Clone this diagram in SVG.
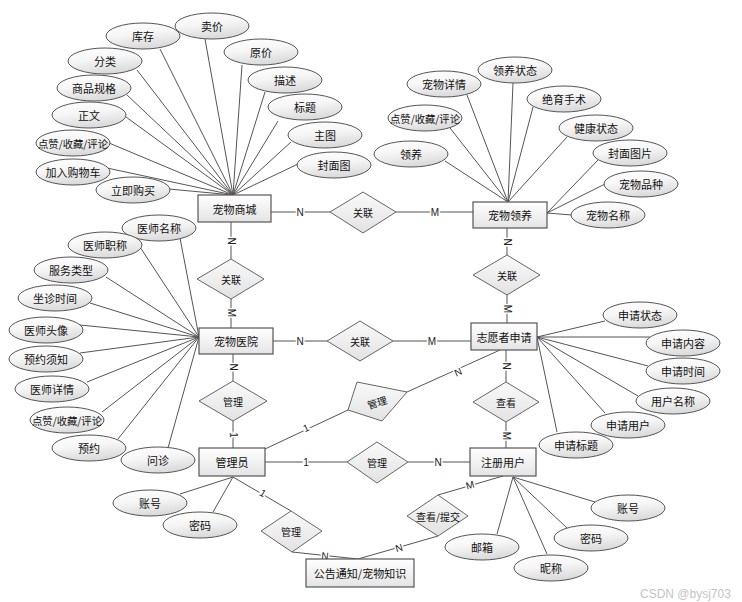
<svg xmlns="http://www.w3.org/2000/svg" width="742" height="602" viewBox="0 0 742 602">
<defs>
<linearGradient id="gE" x1="0" y1="0" x2="0.3" y2="1"><stop offset="0" stop-color="#ffffff"/><stop offset="0.5" stop-color="#f6f6f6"/><stop offset="1" stop-color="#dcdcdc"/></linearGradient>
<linearGradient id="gR" x1="0" y1="0" x2="0" y2="1"><stop offset="0" stop-color="#ffffff"/><stop offset="1" stop-color="#e4e4e4"/></linearGradient>
<linearGradient id="gD" x1="0" y1="0" x2="0" y2="1"><stop offset="0" stop-color="#fafafa"/><stop offset="1" stop-color="#e2e2e2"/></linearGradient>
<style>
.c line{stroke:#555;stroke-width:1}
ellipse{fill:url(#gE);stroke:#555;stroke-width:1}
rect.e{fill:url(#gR);stroke:#555;stroke-width:1.2}
polygon{fill:url(#gD);stroke:#666;stroke-width:1}
text{font-family:"Noto Sans CJK SC","Liberation Sans",sans-serif;font-size:11px;fill:#111;text-anchor:middle;dominant-baseline:central}
text.r{font-size:10px}
text.s{font-size:10.5px}
text.l{font-family:"Liberation Sans",sans-serif;font-size:10px;fill:#222;stroke:#fff;stroke-width:3;paint-order:stroke}
text.w{font-family:"Liberation Sans",sans-serif;font-size:12px;fill:#c4c4c4;text-anchor:start}
</style>
</defs>
<rect width="742" height="602" fill="#fff"/>
<g id="connectors" class="c">
<line x1="205" y1="39" x2="233" y2="195"/><line x1="160" y1="49" x2="233" y2="195"/><line x1="242" y1="65" x2="233" y2="195"/><line x1="137" y1="70" x2="233" y2="195"/><line x1="265" y1="92" x2="233" y2="195"/><line x1="127" y1="95" x2="233" y2="195"/><line x1="278" y1="121" x2="233" y2="195"/><line x1="126" y1="117" x2="233" y2="195"/><line x1="291" y1="142" x2="233" y2="195"/><line x1="109" y1="143" x2="233" y2="195"/><line x1="298" y1="164" x2="233" y2="195"/><line x1="107" y1="168" x2="233" y2="195"/><line x1="169" y1="189" x2="233" y2="195"/>
<line x1="513" y1="83" x2="508" y2="202"/><line x1="467" y1="95" x2="508" y2="202"/><line x1="533" y1="107" x2="508" y2="202"/><line x1="450" y1="128" x2="508" y2="202"/><line x1="567" y1="137" x2="508" y2="202"/><line x1="445" y1="161" x2="508" y2="202"/><line x1="598" y1="160" x2="547" y2="213"/><line x1="605" y1="184" x2="547" y2="213"/><line x1="572" y1="215" x2="547" y2="213"/>
<line x1="180" y1="238" x2="199" y2="337"/><line x1="140" y1="247" x2="199" y2="337"/><line x1="106" y1="277" x2="199" y2="337"/><line x1="90" y1="303" x2="199" y2="337"/><line x1="80" y1="325" x2="199" y2="337"/><line x1="80" y1="353" x2="199" y2="337"/><line x1="87" y1="382" x2="199" y2="337"/><line x1="102" y1="412" x2="199" y2="337"/><line x1="118" y1="439" x2="199" y2="337"/><line x1="168" y1="448" x2="199" y2="337"/>
<line x1="605" y1="321" x2="537" y2="337"/><line x1="650" y1="337" x2="537" y2="337"/><line x1="648" y1="366" x2="537" y2="337"/><line x1="638" y1="396" x2="537" y2="337"/><line x1="605" y1="413" x2="537" y2="337"/><line x1="557" y1="432" x2="537" y2="337"/>
<line x1="180" y1="494" x2="233" y2="477"/><line x1="213" y1="512" x2="233" y2="477"/>
<line x1="595" y1="502" x2="513" y2="477"/><line x1="567" y1="528" x2="513" y2="477"/><line x1="497" y1="534" x2="513" y2="477"/><line x1="547" y1="554" x2="513" y2="477"/>
<line x1="271" y1="212" x2="330" y2="212"/><line x1="396" y1="212" x2="473" y2="212"/>
<line x1="231" y1="222" x2="231" y2="259"/><line x1="231" y1="299" x2="231" y2="328"/>
<line x1="273" y1="341" x2="327" y2="341"/><line x1="393" y1="341" x2="471" y2="341"/>
<line x1="507" y1="228" x2="507" y2="255"/><line x1="507" y1="295" x2="507" y2="323"/>
<line x1="233" y1="354" x2="233" y2="381"/><line x1="233" y1="421" x2="233" y2="448"/>
<line x1="265" y1="449" x2="348" y2="410"/><line x1="407" y1="392" x2="500" y2="350"/>
<line x1="506" y1="350" x2="506" y2="382"/><line x1="506" y1="422" x2="506" y2="448"/>
<line x1="265" y1="462" x2="347" y2="462"/><line x1="408" y1="462" x2="470" y2="462"/>
<line x1="233" y1="477" x2="291" y2="511"/><line x1="292" y1="552" x2="358" y2="559"/>
<line x1="358" y1="559" x2="438" y2="536"/><line x1="438" y1="495" x2="503" y2="476"/>
<text class="l" x="300" y="212">N</text><text class="l" x="435" y="212">M</text>
<text class="l" transform="translate(231,241) rotate(90)">N</text><text class="l" transform="translate(231,313) rotate(90)">M</text>
<text class="l" x="300" y="341">N</text><text class="l" x="432" y="341">M</text>
<text class="l" transform="translate(507,242) rotate(90)">N</text><text class="l" transform="translate(507,309) rotate(90)">M</text>
<text class="l" transform="translate(233,367) rotate(90)">N</text><text class="l" transform="translate(233,435) rotate(90)">1</text>
<text class="l" transform="translate(306,428) rotate(-25)">1</text><text class="l" transform="translate(458,372) rotate(-24)">N</text>
<text class="l" transform="translate(506,366) rotate(90)">N</text><text class="l" transform="translate(506,436) rotate(90)">M</text>
<text class="l" x="306" y="462">1</text><text class="l" x="438" y="462">N</text>
<text class="l" transform="translate(263,493) rotate(30)">1</text><text class="l" transform="translate(325,556) rotate(6)">N</text>
<text class="l" transform="translate(399,548) rotate(-16)">N</text><text class="l" transform="translate(470,485) rotate(-16)">M</text>
</g>
<g id="mall"><rect class="e" x="198" y="195" width="73" height="27"/><text x="234.5" y="208.5">宠物商城</text></g>
<g id="adopt"><rect class="e" x="473" y="202" width="74" height="26"/><text x="510" y="215">宠物领养</text></g>
<g id="hospital"><rect class="e" x="199" y="328" width="74" height="26"/><text x="236" y="341">宠物医院</text></g>
<g id="volunteer"><rect class="e" x="471" y="323" width="66" height="27"/><text x="504" y="336.5">志愿者申请</text></g>
<g id="admin"><rect class="e" x="199" y="448" width="66" height="28"/><text x="232" y="462">管理员</text></g>
<g id="user"><rect class="e" x="470" y="448" width="66" height="28"/><text x="503" y="462">注册用户</text></g>
<g id="notice"><rect class="e" x="306" y="559" width="108" height="28"/><text x="360" y="573">公告通知/宠物知识</text></g>
<g id="rel1"><polygon points="330,212 363,192 396,212 363,233"/><text class="r" x="363" y="212">关联</text></g>
<g id="rel2"><polygon points="197,279 231,259 264,279 231,299"/><text class="r" x="231" y="279">关联</text></g>
<g id="rel3"><polygon points="473,275 507,255 540,275 507,295"/><text class="r" x="507" y="275">关联</text></g>
<g id="rel4"><polygon points="327,341 360,321 393,341 360,361"/><text class="r" x="360" y="341">关联</text></g>
<g id="rel5"><polygon points="199,401 233,381 267,401 233,421"/><text class="r" x="233" y="401">管理</text></g>
<g id="rel6"><polygon points="348,410 357,382 407,392 382,421"/><text class="r" transform="translate(377,402) rotate(-17)">管理</text></g>
<g id="rel7"><polygon points="473,402 506,382 539,402 506,422"/><text class="r" x="506" y="402">查看</text></g>
<g id="rel8"><polygon points="347,462 377,442 408,462 377,483"/><text class="r" x="377" y="462">管理</text></g>
<g id="rel9"><polygon points="261,531 291,511 322,531 292,552"/><text class="r" x="291" y="531">管理</text></g>
<g id="rel10"><polygon points="407,516 438,495 468,516 438,536"/><text class="r" x="438" y="516">查看/提交</text></g>
<g id="a-mall-1"><ellipse cx="212" cy="26" rx="37" ry="13"/><text x="212" y="26">卖价</text></g>
<g id="a-mall-2"><ellipse cx="143" cy="36" rx="37" ry="13"/><text x="143" y="36">库存</text></g>
<g id="a-mall-3"><ellipse cx="261" cy="52" rx="37" ry="13"/><text x="261" y="52">原价</text></g>
<g id="a-mall-4"><ellipse cx="105" cy="61" rx="37" ry="13"/><text x="105" y="61">分类</text></g>
<g id="a-mall-5"><ellipse cx="285" cy="80" rx="37" ry="13"/><text x="285" y="80">描述</text></g>
<g id="a-mall-6"><ellipse cx="94" cy="88" rx="37" ry="13"/><text x="94" y="88">商品规格</text></g>
<g id="a-mall-7"><ellipse cx="305" cy="107" rx="37" ry="13"/><text x="305" y="107">标题</text></g>
<g id="a-mall-8"><ellipse cx="89" cy="115" rx="37" ry="13"/><text x="89" y="115">正文</text></g>
<g id="a-mall-9"><ellipse cx="325" cy="135" rx="37" ry="13"/><text x="325" y="135">主图</text></g>
<g id="a-mall-10"><ellipse cx="73" cy="143" rx="37" ry="13"/><text class="s" x="73" y="143" textLength="70" lengthAdjust="spacingAndGlyphs">点赞/收藏/评论</text></g>
<g id="a-mall-11"><ellipse cx="334" cy="165" rx="37" ry="13"/><text x="334" y="165">封面图</text></g>
<g id="a-mall-12"><ellipse cx="73" cy="172" rx="37" ry="13"/><text x="73" y="172">加入购物车</text></g>
<g id="a-mall-13"><ellipse cx="133" cy="190" rx="37" ry="13"/><text x="133" y="190">立即购买</text></g>
<g id="a-adopt-1"><ellipse cx="515" cy="70" rx="37" ry="13"/><text x="515" y="70">领养状态</text></g>
<g id="a-adopt-2"><ellipse cx="444" cy="84" rx="37" ry="13"/><text x="444" y="84">宠物详情</text></g>
<g id="a-adopt-3"><ellipse cx="564" cy="99" rx="37" ry="13"/><text x="564" y="99">绝育手术</text></g>
<g id="a-adopt-4"><ellipse cx="425" cy="118" rx="37" ry="13"/><text class="s" x="425" y="118" textLength="70" lengthAdjust="spacingAndGlyphs">点赞/收藏/评论</text></g>
<g id="a-adopt-5"><ellipse cx="596" cy="128" rx="37" ry="13"/><text x="596" y="128">健康状态</text></g>
<g id="a-adopt-6"><ellipse cx="411" cy="154" rx="37" ry="13"/><text x="411" y="154">领养</text></g>
<g id="a-adopt-7"><ellipse cx="630" cy="153" rx="37" ry="13"/><text x="630" y="153">封面图片</text></g>
<g id="a-adopt-8"><ellipse cx="641" cy="184" rx="37" ry="13"/><text x="641" y="184">宠物品种</text></g>
<g id="a-adopt-9"><ellipse cx="608" cy="215" rx="37" ry="13"/><text x="608" y="215">宠物名称</text></g>
<g id="a-hosp-1"><ellipse cx="159" cy="228" rx="37" ry="13"/><text x="159" y="228">医师名称</text></g>
<g id="a-hosp-2"><ellipse cx="105" cy="245" rx="37" ry="13"/><text x="105" y="245">医师职称</text></g>
<g id="a-hosp-3"><ellipse cx="71" cy="270" rx="37" ry="13"/><text x="71" y="270">服务类型</text></g>
<g id="a-hosp-4"><ellipse cx="55" cy="298" rx="37" ry="13"/><text x="55" y="298">坐诊时间</text></g>
<g id="a-hosp-5"><ellipse cx="46" cy="330" rx="37" ry="13"/><text x="46" y="330">医师头像</text></g>
<g id="a-hosp-6"><ellipse cx="46" cy="359" rx="37" ry="13"/><text x="46" y="359">预约须知</text></g>
<g id="a-hosp-7"><ellipse cx="52" cy="389" rx="37" ry="13"/><text x="52" y="389">医师详情</text></g>
<g id="a-hosp-8"><ellipse cx="67" cy="420" rx="37" ry="13"/><text class="s" x="67" y="420" textLength="70" lengthAdjust="spacingAndGlyphs">点赞/收藏/评论</text></g>
<g id="a-hosp-9"><ellipse cx="89" cy="448" rx="37" ry="13"/><text x="89" y="448">预约</text></g>
<g id="a-hosp-10"><ellipse cx="158" cy="460" rx="37" ry="13"/><text x="158" y="460">问诊</text></g>
<g id="a-vol-1"><ellipse cx="640" cy="315" rx="37" ry="13"/><text x="640" y="315">申请状态</text></g>
<g id="a-vol-2"><ellipse cx="683" cy="343" rx="37" ry="13"/><text x="683" y="343">申请内容</text></g>
<g id="a-vol-3"><ellipse cx="683" cy="371" rx="37" ry="13"/><text x="683" y="371">申请时间</text></g>
<g id="a-vol-4"><ellipse cx="673" cy="401" rx="37" ry="13"/><text x="673" y="401">用户名称</text></g>
<g id="a-vol-5"><ellipse cx="628" cy="425" rx="37" ry="13"/><text x="628" y="425">申请用户</text></g>
<g id="a-vol-6"><ellipse cx="576" cy="445" rx="37" ry="13"/><text x="576" y="445">申请标题</text></g>
<g id="a-admin-1"><ellipse cx="150" cy="503" rx="37" ry="13"/><text x="150" y="503">账号</text></g>
<g id="a-admin-2"><ellipse cx="200" cy="525" rx="37" ry="13"/><text x="200" y="525">密码</text></g>
<g id="a-user-1"><ellipse cx="628" cy="508" rx="37" ry="13"/><text x="628" y="508">账号</text></g>
<g id="a-user-2"><ellipse cx="591" cy="538" rx="37" ry="13"/><text x="591" y="538">密码</text></g>
<g id="a-user-3"><ellipse cx="482" cy="547" rx="37" ry="13"/><text x="482" y="547">邮箱</text></g>
<g id="a-user-4"><ellipse cx="551" cy="568" rx="37" ry="13"/><text x="551" y="568">昵称</text></g>
<text class="w" x="640" y="594">CSDN @bysj703</text>
</svg>
